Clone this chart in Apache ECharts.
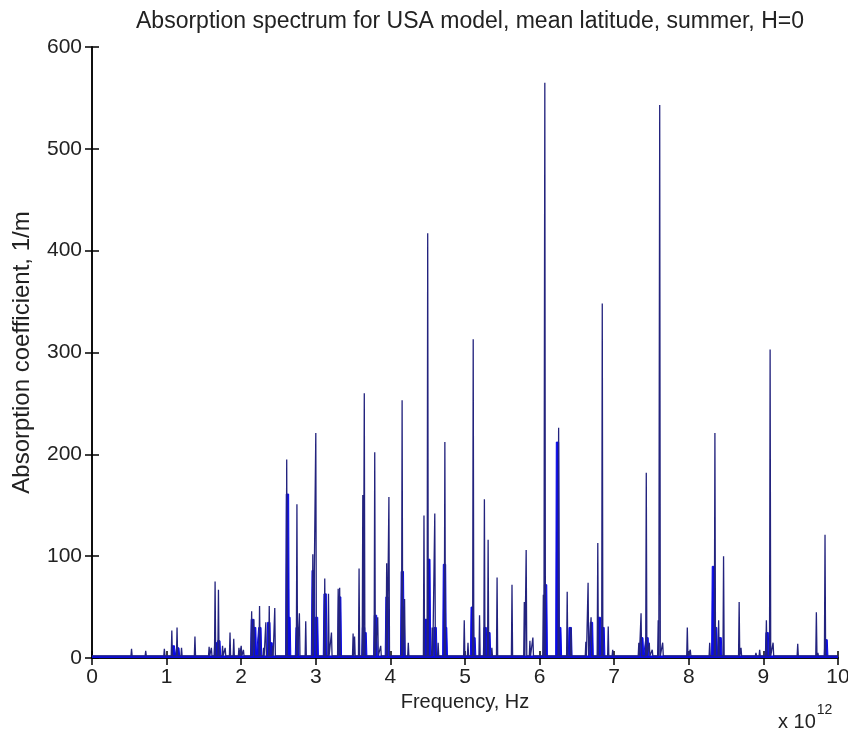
<!DOCTYPE html>
<html>
<head>
<meta charset="utf-8">
<script src="https://cdn.jsdelivr.net/npm/echarts@6/dist/echarts.min.js"></script>
<style>html,body{margin:0;padding:0;background:#fff}#c{width:848px;height:733px}</style>
</head>
<body>
<div id="c"></div>
<script>
// ---- data (frequency in units of 1e12 Hz, absorption in 1/m) ----
const titleText = 'Absorption spectrum for USA model, mean latitude, summer, H=0';
const xName = 'Frequency, Hz';
const yName = 'Absorption coefficient, 1/m';
const xTicks = [0,1,2,3,4,5,6,7,8,9,10];
const yTicks = [0,100,200,300,400,500,600];
const baselineLevel = 2;

// narrow absorption lines (peak positions and heights)
const spikeFreq = [0.53,0.72,0.97,1.07,1.14,1.20,1.38,1.57,1.60,1.65,1.695,1.75,1.785,1.85,1.90,1.97,2.00,2.03,
  2.14,2.17,2.246,2.30,2.33,2.376,2.42,2.45,2.61,2.747,2.78,2.865,2.96,3.00,3.12,3.17,3.21,3.30,3.32,3.50,3.52,
  3.58,3.63,3.65,3.79,3.83,3.87,3.95,3.98,4.157,4.19,4.24,4.45,4.50,4.56,4.595,4.64,4.73,4.99,5.04,5.11,5.195,
  5.26,5.31,5.36,5.43,5.63,5.795,5.82,5.87,5.91,6.05,6.07,6.255,6.37,6.42,6.62,6.65,6.69,6.78,6.84,6.92,6.98,
  7.33,7.36,7.43,7.47,7.51,7.59,7.61,7.65,7.98,8.02,8.28,8.35,8.40,8.466,8.675,8.70,8.90,8.95,9.04,9.09,9.13,
  9.46,9.71,9.73,9.826];
const spikeHeight = [9,7,9,27,30,10,21,11,10,75,67,12,10,25,19,10,12,8,
  46,38,51,10,35,51,12,49,195,151,44,36,102,221,78,63,25,68,69,24,21,
  88,160,260,202,40,12,93,158,253,58,15,140,417,30,142,15,212,37,15,313,42,
  156,116,10,79,72,55,106,17,20,62,565,226,65,30,16,74,40,113,348,31,8,
  15,44,182,15,8,37,543,15,30,8,15,221,37,100,55,10,5,8,37,303,15,
  14,45,5,121];

// broader clusters of unresolved lines (bright blue blocks)
const bandFreq = [1.09,1.15,1.66,1.70,2.15,2.18,2.25,2.37,2.40,2.62,2.64,2.75,2.965,3.01,3.125,3.32,3.64,3.66,
  3.80,3.955,4.16,4.17,4.48,4.515,4.60,4.725,4.74,5.097,5.12,5.27,5.32,6.08,6.24,6.27,6.41,6.695,6.80,6.85,
  7.37,7.44,8.33,8.36,8.42,9.05,9.84];
const bandHeight = [12,10,15,17,38,30,30,35,15,161,40,30,86,40,63,60,30,25,
  42,60,85,50,38,97,30,92,30,50,20,30,25,72,212,30,30,35,40,30,
  20,20,90,30,20,25,18];

// ---- build line data from the lists ----
function spikeData() {
  const idx = spikeFreq.map((_, i) => i).sort((a, b) => spikeFreq[a] - spikeFreq[b]);
  const d = [[0, baselineLevel]];
  const hw = 0.008;
  idx.forEach(i => {
    const f = spikeFreq[i], h = spikeHeight[i];
    d.push([f - hw, baselineLevel], [f, h], [f + hw, baselineLevel]);
  });
  d.push([10, baselineLevel]);
  return d;
}
function bandData() {
  const idx = bandFreq.map((_, i) => i).sort((a, b) => bandFreq[a] - bandFreq[b]);
  const d = [[0, baselineLevel]];
  idx.forEach(i => {
    const f = bandFreq[i], h = bandHeight[i];
    d.push([f - 0.025, baselineLevel], [f - 0.016, h], [f + 0.016, h], [f + 0.025, baselineLevel]);
  });
  d.push([10, baselineLevel]);
  return d;
}

const FONT = '"Liberation Sans", Arial, sans-serif';
const TXT = '#222';
const chart = echarts.init(document.getElementById('c'), null, {renderer: 'canvas'});
const axisCommon = {
  type: 'value', min: 0, max: 10, interval: 1,
  axisLine: {show: true, lineStyle: {color: '#000', width: 1.5}},
  axisTick: {show: true, inside: true, length: 7, lineStyle: {color: '#000', width: 1.5}},
  splitLine: {show: false}
};
chart.setOption({
  animation: false,
  backgroundColor: '#fff',
  title: {
    text: titleText, left: 465, textAlign: 'center', top: 5,
    textStyle: {fontFamily: FONT, fontSize: 23, fontWeight: 'normal', color: TXT}
  },
  grid: {left: 92, right: 10, top: 47, bottom: 75, containLabel: false, outerBoundsMode: 'none'},
  xAxis: [
    Object.assign({}, axisCommon, {
      position: 'bottom', name: xName, nameLocation: 'middle', nameGap: 31,
      nameTextStyle: {fontFamily: FONT, fontSize: 20, color: TXT},
      axisLabel: {fontFamily: FONT, fontSize: 21, color: TXT, margin: 9,
        formatter: v => xTicks.includes(v) ? String(v) : ''}
    }),
    Object.assign({}, axisCommon, {position: 'top', axisLabel: {show: false}})
  ],
  yAxis: [
    Object.assign({}, axisCommon, {
      min: 0, max: 600, interval: 100, position: 'left',
      name: yName, nameLocation: 'middle', nameGap: 58,
      nameTextStyle: {fontFamily: FONT, fontSize: 24, color: TXT},
      axisLabel: {fontFamily: FONT, fontSize: 21, color: TXT, margin: 10,
        formatter: v => yTicks.includes(v) ? String(v) : ''}
    }),
    Object.assign({}, axisCommon, {min: 0, max: 600, interval: 100, position: 'right', axisLabel: {show: false}})
  ],
  graphic: [{
    type: 'text', left: 778, top: 703,
    style: {
      rich: {
        a: {fontFamily: FONT, fontSize: 20, fill: TXT, padding: [9,0,0,0]},
        b: {fontFamily: FONT, fontSize: 14, fill: TXT, verticalAlign: 'top', padding: [0,0,0,1]}
      },
      text: '{a|x 10}{b|12}'
    }
  }],
  series: [
    {
      type: 'line', xAxisIndex: 0, yAxisIndex: 0, data: bandData(),
      showSymbol: false, symbol: 'none', z: 2,
      lineStyle: {color: '#0a0ae6', width: 1},
      areaStyle: {color: '#0a0ae6', opacity: 1},
      silent: true
    },
    {
      type: 'line', xAxisIndex: 0, yAxisIndex: 0, data: spikeData(),
      showSymbol: false, symbol: 'none', z: 3,
      lineStyle: {color: '#23237e', width: 1.3},
      silent: true
    }
  ]
});
</script>
</body>
</html>
